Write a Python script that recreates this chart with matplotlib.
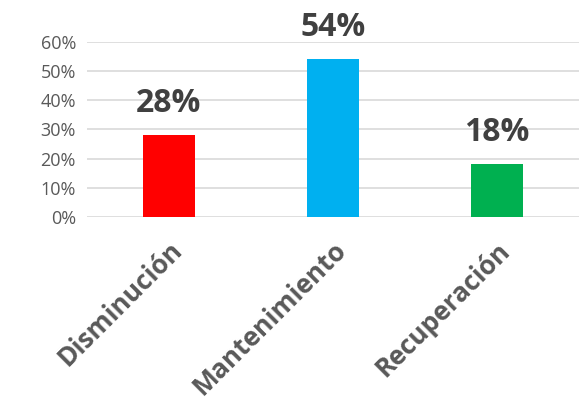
import matplotlib
matplotlib.use('Agg')
import matplotlib.pyplot as plt
from matplotlib.ticker import PercentFormatter

plt.rcParams['font.family'] = ['Open Sans', 'DejaVu Sans']

# datos
categorias = ['Disminución', 'Mantenimiento', 'Recuperación']
valores = [28, 54, 18]
colores = ['#FF0000', '#00B0F0', '#00B050']
etiquetas = ['28%', '54%', '18%']

fig = plt.figure(figsize=(5.84, 4.03), dpi=100)
ax = fig.add_axes([0.149, 0.4615, 0.842, 0.4345])

x = range(len(categorias))
barras = ax.bar(x, valores, width=0.32, color=colores, zorder=3)

# etiquetas de datos encima de cada barra
for b, txt in zip(barras, etiquetas):
    ax.annotate(txt, (b.get_x() + b.get_width() / 2, b.get_height()),
                xytext=(0, 11), textcoords='offset points',
                ha='center', va='bottom', fontsize=23, fontweight='bold',
                color='#404040')

ax.set_xlim(-0.5, 2.5)
ax.set_ylim(0, 60)
ax.set_yticks(range(0, 61, 10))
ax.yaxis.set_major_formatter(PercentFormatter(decimals=0))
ax.set_xticks(list(x))
ax.set_xticklabels(categorias, rotation=45, ha='right', rotation_mode='anchor',
                   fontsize=19, fontweight='bold', color='#595959')
ax.tick_params(axis='y', labelsize=13, labelcolor='#595959', length=0, pad=8)
ax.tick_params(axis='x', length=0, pad=14)

ax.grid(axis='y', color='#D9D9D9', linewidth=1.2, zorder=0)
for s in ax.spines.values():
    s.set_visible(False)

fig.savefig('out.png', dpi=100)
